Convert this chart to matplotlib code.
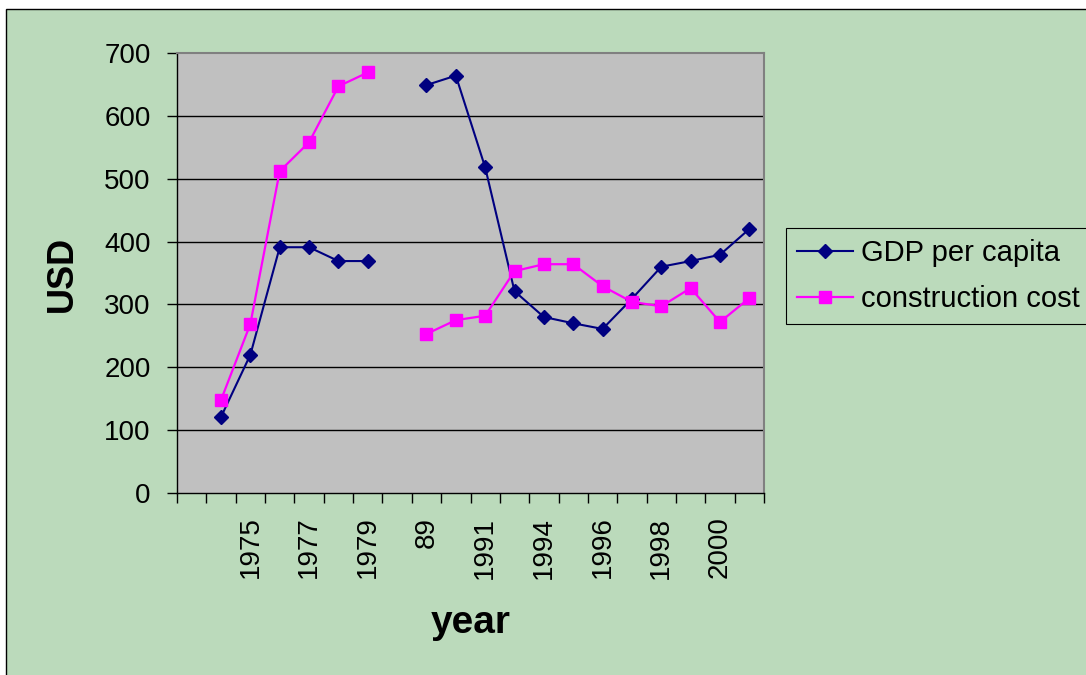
import numpy as np
import matplotlib
matplotlib.use("Agg")
import matplotlib.pyplot as plt
from matplotlib.patches import Rectangle

plt.rcParams['font.family'] = ['Liberation Sans', 'DejaVu Sans']

# Category axis (blank entries are empty slots on the axis)
categories = ["", "1974", "1975", "1976", "1977", "1978", "1979", "",
              "89", "1990", "1991", "1993", "1994", "1995", "1996",
              "1997", "1998", "1999", "2000", "2001"]

gdp_per_capita = [np.nan, 121, 220, 391, 391, 369, 369, np.nan,
                  649, 664, 518, 321, 280, 270, 261,
                  309, 360, 369, 379, 420]

construction_cost = [np.nan, 148, 269, 512, 558, 647, 669, np.nan,
                     253, 275, 282, 353, 364, 364, 329,
                     304, 297, 326, 272, 310]

y_ticks = [0, 100, 200, 300, 400, 500, 600, 700]

W, H = 1086, 675
fig = plt.figure(figsize=(W / 100, H / 100), dpi=100)
fig.patch.set_facecolor("white")

# Chart area background with its border
fig.patches.append(Rectangle((6 / W, -0.05), 1.1, 1 - 9 / H + 0.05,
                             transform=fig.transFigure, facecolor="#BBDABB",
                             edgecolor="black", linewidth=1.0, zorder=-5))

ax = fig.add_axes([177 / W, 1 - 493 / H, (764 - 177) / W, (493 - 53) / H])
ax.set_facecolor("#C0C0C0")

x = np.arange(len(categories))
ax.plot(x, gdp_per_capita, color="#000080", linewidth=1.5, marker="D",
        markersize=7, markerfacecolor="#000080", markeredgecolor="#000080",
        label="GDP per capita", zorder=3)
ax.plot(x, construction_cost, color="#FF00FF", linewidth=1.6, marker="s",
        markersize=8.5, markerfacecolor="#FF00FF", markeredgecolor="#FF00FF",
        label="construction cost", zorder=3)

ax.set_xlim(-0.5, len(categories) - 0.5)
ax.set_ylim(0, 700)
ax.set_yticks(y_ticks)
ax.set_yticklabels([str(v) for v in y_ticks], fontsize=20)
for v in y_ticks[1:-1]:
    ax.axhline(v, color="black", linewidth=1.0, zorder=1)

# Category boundaries carry the tick marks; labels on every other category
ax.set_xticks(np.arange(len(categories) + 1) - 0.5)
ax.set_xticklabels([])
ax.set_xticks(x[::2], minor=True)
ax.set_xticklabels(categories[::2], minor=True, rotation=90, fontsize=20)
ax.tick_params(axis="x", which="major", direction="out", length=7, width=1, color="black")
ax.tick_params(axis="x", which="minor", length=0, pad=17)
ax.tick_params(axis="y", direction="out", length=7, width=1, pad=12)

for side in ("left", "bottom"):
    ax.spines[side].set_color("black")
    ax.spines[side].set_linewidth(1.0)
for side in ("top", "right"):
    ax.spines[side].set_color("#808080")
    ax.spines[side].set_linewidth(1.5)

fig.text(471 / W, 1 - 623 / H, "year", fontsize=28, fontweight="bold",
         ha="center", va="center")
fig.text(62 / W, 1 - 274 / H, "USD", fontsize=26, fontweight="bold",
         rotation=90, ha="center", va="center")

leg = fig.legend(loc="upper left", bbox_to_anchor=(786 / W, 1 - 228 / H),
                 fontsize=21, frameon=True, fancybox=False,
                 edgecolor="black", facecolor="#BBDABB", framealpha=1,
                 handlelength=1.9, borderpad=0.38, labelspacing=0.62,
                 handletextpad=0.3, borderaxespad=0)
leg.get_frame().set_linewidth(0.8)

fig.savefig("out.png", dpi=100)
